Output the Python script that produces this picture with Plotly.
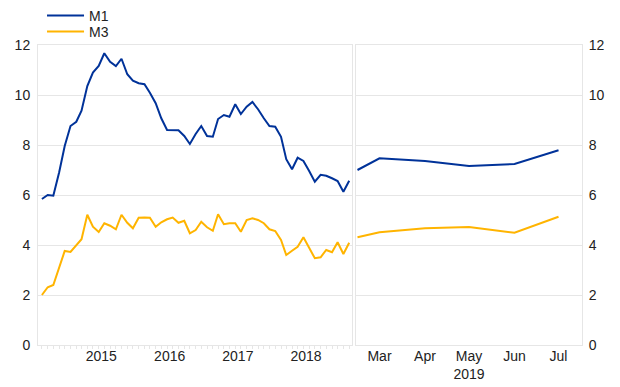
import plotly.graph_objects as go
import pandas as pd

# ---- data ----
left_dates = pd.date_range("2014-08-01", "2019-02-01", freq="MS")
m1_left = [5.84, 6.0, 5.97, 6.9, 7.96, 8.76, 8.93, 9.37, 10.36, 10.9, 11.16, 11.67, 11.33, 11.16,
           11.45, 10.83, 10.57, 10.47, 10.43, 10.09, 9.67, 9.07, 8.6, 8.6, 8.59, 8.36, 8.04,
           8.44, 8.76, 8.36, 8.33, 9.04, 9.2, 9.13, 9.63, 9.24, 9.53, 9.72, 9.43, 9.07, 8.76,
           8.73, 8.33, 7.43, 7.03, 7.49, 7.36, 6.97, 6.53, 6.81, 6.77, 6.67, 6.56, 6.13, 6.57]
m3_left = [2.0, 2.31, 2.4, 3.07, 3.76, 3.72, 4.0, 4.23, 5.21, 4.73, 4.52, 4.87, 4.77, 4.63,
           5.21, 4.89, 4.67, 5.09, 5.1, 5.09, 4.73, 4.91, 5.03, 5.1, 4.89, 4.97, 4.47, 4.6,
           4.93, 4.71, 4.57, 5.23, 4.83, 4.87, 4.87, 4.53, 5.0, 5.07, 5.0, 4.87, 4.63, 4.56,
           4.2, 3.6, 3.77, 3.93, 4.31, 3.87, 3.47, 3.51, 3.8, 3.71, 4.11, 3.64, 4.09]

right_dates = ["2019-02-14", "2019-03-01", "2019-04-01", "2019-05-01", "2019-06-01", "2019-07-01"]
m1_right = [7.0, 7.47, 7.36, 7.16, 7.24, 7.79]
m3_right = [4.31, 4.51, 4.67, 4.72, 4.49, 5.13]

year_labels = ["2015", "2016", "2017", "2018"]
year_label_pos = ["2015-06-15", "2016-06-15", "2017-06-15", "2018-06-15"]
month_labels = ["Mar", "Apr", "May<br>2019", "Jun", "Jul"]
month_label_pos = ["2019-03-01", "2019-04-01", "2019-05-01", "2019-06-01", "2019-07-01"]

y_ticks = [0, 2, 4, 6, 8, 10, 12]

BLUE = "#003299"
YELLOW = "#FFB400"
GRID = "#e6e6e6"
FONT = "Liberation Sans, Arial, sans-serif"
TXT = "#222222"

fig = go.Figure()
fig.add_trace(go.Scatter(x=left_dates, y=m1_left, mode="lines", name="M1",
                         line=dict(color=BLUE, width=2), xaxis="x", yaxis="y",
                         legend="legend", legendgroup="m1"))
fig.add_trace(go.Scatter(x=left_dates, y=m3_left, mode="lines", name="M3",
                         line=dict(color=YELLOW, width=2), xaxis="x", yaxis="y",
                         legend="legend2", legendgroup="m3"))
fig.add_trace(go.Scatter(x=right_dates, y=m1_right, mode="lines", name="M1",
                         line=dict(color=BLUE, width=2), xaxis="x2", yaxis="y2",
                         showlegend=False, legendgroup="m1"))
fig.add_trace(go.Scatter(x=right_dates, y=m3_right, mode="lines", name="M3",
                         line=dict(color=YELLOW, width=2), xaxis="x2", yaxis="y2",
                         showlegend=False, legendgroup="m3"))

axis_common = dict(showline=True, linecolor=GRID, linewidth=1, mirror=True, automargin=False,
                   tickfont=dict(family=FONT, size=14, color=TXT))

legend_common = dict(x=0.0074, xanchor="left", yanchor="top",
                     font=dict(family=FONT, size=14, color=TXT),
                     bgcolor="rgba(0,0,0,0)", itemwidth=37)

# page body has an 8px default margin: figure is 612x379 placed at (8, 8)
fig.update_layout(
    width=612, height=379,
    margin=dict(l=30, r=38, t=37, b=42, autoexpand=False),
    plot_bgcolor="white", paper_bgcolor="white",
    font=dict(family=FONT, size=14, color=TXT),
    showlegend=True,
    legend=dict(y=1.15, **legend_common),
    legend2=dict(y=1.097, **legend_common),
    xaxis=dict(domain=[0, 0.5772], type="date",
               range=["2014-07-11", "2019-02-16"],
               tickmode="array", tickvals=year_label_pos, ticktext=year_labels,
               ticks="", showgrid=False, zeroline=False, ticklabelstandoff=-2,
               minor=dict(ticks="outside", ticklen=3, tickcolor=GRID, dtick="M1",
                          tick0="2014-08-01", showgrid=False),
               anchor="y", **axis_common),
    yaxis=dict(range=[0, 12], tickmode="array", tickvals=y_ticks, ticks="",
               showgrid=True, gridcolor=GRID, gridwidth=1, zeroline=False,
               ticklabelstandoff=4, anchor="x", **axis_common),
    xaxis2=dict(domain=[0.5846, 1], type="date",
                range=["2019-02-13", "2019-07-17"],
                tickmode="array", tickvals=month_label_pos, ticktext=month_labels,
                ticks="", showgrid=False, zeroline=False, ticklabelstandoff=-2,
                anchor="y2", **axis_common),
    yaxis2=dict(range=[0, 12], tickmode="array", tickvals=y_ticks, ticks="",
                side="right", showgrid=True, gridcolor=GRID, gridwidth=1, zeroline=False,
                ticklabelstandoff=3, anchor="x2", **axis_common),
)

fig.write_html("out.html")
